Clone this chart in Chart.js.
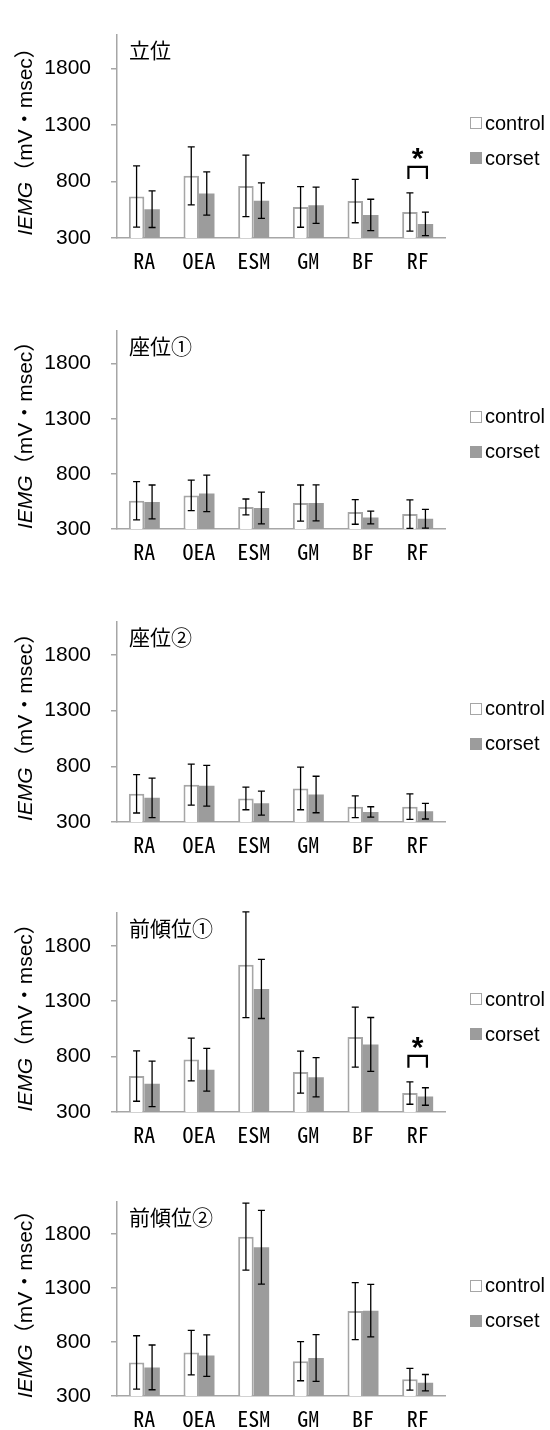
<!DOCTYPE html>
<html>
<head>
<meta charset="utf-8">
<script src="https://cdn.jsdelivr.net/npm/chart.js@4.4.1/dist/chart.umd.min.js"></script>
<style>
  body { margin: 0; background: #fff; width: 550px; height: 1430px; overflow: hidden; position: relative; }
  .panel { position: absolute; left: 0; width: 550px; }
  .legend-item { position: absolute; left: 470px; height: 22px; display: flex; align-items: center;
    font: 20px "Liberation Sans", Arial, sans-serif; color: #000; white-space: nowrap; }
  .legend-box { width: 12px; height: 12px; box-sizing: border-box; margin-right: 3px; }
</style>
</head>
<body>
<script>
const categories = ['RA', 'OEA', 'ESM', 'GM', 'BF', 'RF'];
const postures = ['立位', '座位①', '座位②', '前傾位①', '前傾位②'];
const seriesNames = ['control', 'corset'];
const yTicks = [300, 800, 1300, 1800];

// mean IEMG per posture (rows) and muscle (columns)
const controlMean = [
  [667, 850, 761, 575, 627, 530],
  [556, 605, 500, 535, 455, 435],
  [553, 635, 512, 601, 437, 438],
  [624, 774, 1629, 660, 976, 471],
  [611, 702, 1775, 622, 1086, 455]
];
const corsetMean = [
  [555, 694, 630, 590, 504, 425],
  [545, 623, 490, 537, 404, 393],
  [517, 625, 469, 547, 390, 397],
  [554, 682, 1411, 614, 910, 440],
  [565, 674, 1677, 652, 1090, 423]
];
const controlSd = [
  [271, 256, 272, 180, 192, 169],
  [174, 139, 72, 164, 112, 130],
  [172, 184, 102, 191, 97, 115],
  [227, 193, 477, 190, 271, 101],
  [247, 206, 310, 181, 264, 100]
];
const corsetSd = [
  [162, 192, 157, 161, 139, 104],
  [154, 165, 144, 164, 58, 85],
  [177, 183, 108, 164, 47, 70],
  [205, 193, 267, 177, 243, 79],
  [207, 192, 341, 217, 243, 76]
];
// index of muscle with significant difference (*), per posture
const sigIndex = [5, null, null, 5, null];

// page layout: plot area top / bottom of each panel
const areaTop = [12, 308, 599, 890, 1179];
const areaBottom = [238, 529, 822, 1112, 1396];
const padTop = 10;
const xAxisHeight = 34;

const borderGrey = '#a6a6a6';
const corsetGrey = '#9c9c9c';

const errorBars = {
  id: 'errorBars',
  afterDatasetsDraw(chart) {
    const { ctx, scales: { y } } = chart;
    ctx.save();
    ctx.strokeStyle = '#000';
    ctx.lineWidth = 1.3;
    chart.data.datasets.forEach((ds, di) => {
      chart.getDatasetMeta(di).data.forEach((bar, i) => {
        const yt = y.getPixelForValue(ds.data[i] + ds.sd[i]);
        const yb = y.getPixelForValue(ds.data[i] - ds.sd[i]);
        const x = bar.x;
        ctx.beginPath();
        ctx.moveTo(x, yt); ctx.lineTo(x, yb);
        ctx.moveTo(x - 3.5, yt); ctx.lineTo(x + 3.5, yt);
        ctx.moveTo(x - 3.5, yb); ctx.lineTo(x + 3.5, yb);
        ctx.stroke();
      });
    });
    ctx.restore();
  }
};

const panelDecor = {
  id: 'panelDecor',
  afterDraw(chart, args, opts) {
    const { ctx, chartArea: a, scales: { y } } = chart;
    ctx.save();
    ctx.fillStyle = '#000';

    // posture name inside the plot
    ctx.font = '21px "Noto Sans CJK JP"';
    ctx.textAlign = 'left';
    ctx.textBaseline = 'top';
    ctx.fillText(opts.label, a.left + 12, a.top + 5);

    // y axis title, "IEMG" in italics
    ctx.save();
    ctx.translate(26, (a.top + a.bottom) / 2);
    ctx.rotate(-Math.PI / 2);
    ctx.textBaseline = 'middle';
    const f1 = 'italic 21px "Liberation Sans"';
    const f2 = '21px "Liberation Sans", "Noto Sans CJK JP"';
    const t1 = 'IEMG', t2 = '（mV・msec）';
    ctx.font = f1; const w1 = ctx.measureText(t1).width;
    ctx.font = f2; const w2 = ctx.measureText(t2).width;
    let x0 = -(w1 + w2) / 2;
    ctx.font = f1; ctx.fillText(t1, x0, 0);
    ctx.font = f2; ctx.fillText(t2, x0 + w1, 0);
    ctx.restore();

    // significance bracket
    if (opts.sig != null) {
      const i = opts.sig;
      const b0 = chart.getDatasetMeta(0).data[i];
      const b1 = chart.getDatasetMeta(1).data[i];
      const tops = chart.data.datasets.map(ds => y.getPixelForValue(ds.data[i] + ds.sd[i]));
      const yTop = Math.min(...tops) - 26;
      ctx.strokeStyle = '#000';
      ctx.lineWidth = 2.2;
      ctx.beginPath();
      ctx.moveTo(b0.x - 1.5, yTop + 12);
      ctx.lineTo(b0.x - 1.5, yTop);
      ctx.lineTo(b1.x + 1.5, yTop);
      ctx.lineTo(b1.x + 1.5, yTop + 12);
      ctx.stroke();
      ctx.font = 'bold 30px "Liberation Sans"';
      ctx.textAlign = 'center';
      ctx.textBaseline = 'alphabetic';
      ctx.fillText('*', (b0.x + b1.x) / 2, yTop + 1);
    }
    ctx.restore();
  }
};

postures.forEach((name, p) => {
  const top = areaTop[p] - padTop;
  const h = padTop + (areaBottom[p] - areaTop[p]) + xAxisHeight;
  const div = document.createElement('div');
  div.className = 'panel';
  div.style.top = top + 'px';
  div.style.height = h + 'px';
  const canvas = document.createElement('canvas');
  canvas.width = 550;
  canvas.height = h;
  div.appendChild(canvas);
  document.body.appendChild(div);

  // legend
  const mid = (areaTop[p] + areaBottom[p]) / 2;
  seriesNames.forEach((s, k) => {
    const item = document.createElement('div');
    item.className = 'legend-item';
    item.style.top = (mid - 2 + k * 35 - 11) + 'px';
    const box = document.createElement('span');
    box.className = 'legend-box';
    box.style.background = k === 0 ? '#fff' : corsetGrey;
    box.style.border = k === 0 ? '1.5px solid ' + borderGrey : 'none';
    item.appendChild(box);
    item.appendChild(document.createTextNode(s));
    document.body.appendChild(item);
  });

  new Chart(canvas, {
    type: 'bar',
    data: {
      labels: categories,
      datasets: [{
        label: seriesNames[0],
        data: controlMean[p],
        sd: controlSd[p],
        backgroundColor: '#fff',
        borderColor: borderGrey,
        borderWidth: 2,
        categoryPercentage: 0.567,
        barPercentage: 1
      }, {
        label: seriesNames[1],
        data: corsetMean[p],
        sd: corsetSd[p],
        backgroundColor: corsetGrey,
        borderWidth: 0,
        categoryPercentage: 0.567,
        barPercentage: 1
      }]
    },
    options: {
      responsive: false,
      animation: false,
      layout: { padding: { top: padTop, right: 105, left: 0, bottom: 0 } },
      plugins: {
        legend: { display: false },
        tooltip: { enabled: false },
        panelDecor: { label: name, sig: sigIndex[p] }
      },
      scales: {
        x: {
          grid: { display: false, drawTicks: false },
          border: { display: true, color: borderGrey, width: 1.5 },
          ticks: {
            color: '#000',
            padding: 9,
            font: { family: "'Noto Sans Mono CJK JP', 'Liberation Sans Narrow', sans-serif", size: 22 }
          },
          afterFit: s => { s.height = xAxisHeight; }
        },
        y: {
          min: 300,
          max: 2100,
          afterBuildTicks: s => { s.ticks = yTicks.map(v => ({ value: v })); },
          grid: { display: true, drawOnChartArea: false, drawTicks: true, tickLength: 6, color: borderGrey, lineWidth: 1.5 },
          border: { display: true, color: borderGrey, width: 1.5 },
          ticks: {
            color: '#000',
            padding: 20,
            font: { family: "'Liberation Sans', Arial, sans-serif", size: 21 },
            callback: v => String(v)
          },
          afterFit: s => { s.width = 117; }
        }
      }
    },
    plugins: [errorBars, panelDecor]
  });
});
</script>
</body>
</html>
